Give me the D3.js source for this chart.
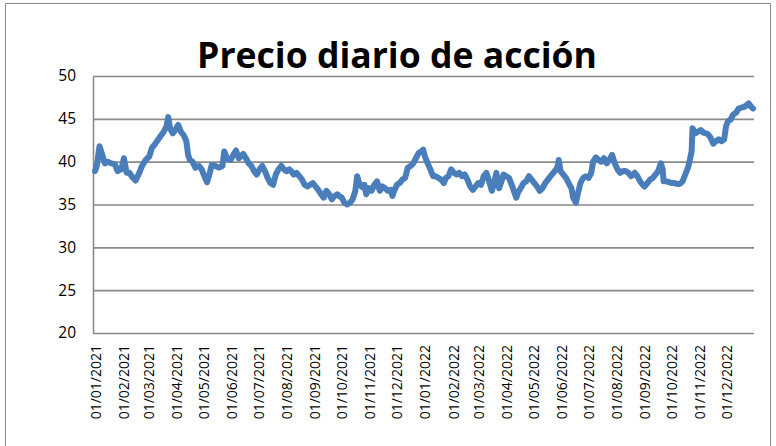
<!DOCTYPE html>
<html>
<head>
<meta charset="utf-8">
<script src="https://cdn.jsdelivr.net/npm/d3@7"></script>
<style>
  body { margin: 0; background: #fff; }
  svg { display: block; }
</style>
</head>
<body>
<svg></svg>
<script>
// precio de cierre (aprox. cada 3 dias)
const fechas2021 = ['01-01','01-03','01-06','01-09','01-12','01-15','01-19','01-23','01-26','01-30',
  '02-02','02-05','02-08','02-12','02-15','02-19','02-22','02-26',
  '03-02','03-05','03-08','03-12','03-14','03-18','03-21','03-23','03-25','03-28','03-31',
  '04-03','04-06','04-09','04-12','04-14','04-16','04-19','04-22','04-26','04-29',
  '05-02','05-05','05-08','05-10','05-14','05-18','05-22','05-24','05-27','05-31',
  '06-03','06-06','06-09','06-11','06-14','06-17','06-20','06-23','06-26','06-29',
  '07-02','07-05','07-08','07-11','07-14','07-17','07-20','07-23','07-26','07-29',
  '08-01','08-04','08-06','08-09','08-12','08-15','08-18','08-21','08-24','08-27','08-30',
  '09-02','09-05','09-08','09-11','09-14','09-17','09-20','09-23','09-26','09-28',
  '10-01','10-04','10-07','10-10','10-13','10-16','10-18','10-21','10-24','10-26','10-28','10-31',
  '11-03','11-06','11-09','11-12','11-15','11-18','11-21','11-24','11-26','11-28',
  '12-01','12-04','12-07','12-10','12-13','12-16','12-19','12-22','12-25','12-28','12-30'];
const precios2021 = [38.9,39.5,41.8,40.8,39.8,40.0,39.8,39.7,38.9,39.1,
  40.4,38.7,38.7,38.1,37.8,38.7,39.5,40.2,
  40.6,41.6,42.0,42.6,42.9,43.5,44.1,45.2,43.9,43.3,43.7,
  44.3,43.5,43.1,42.4,40.8,40.2,40.0,39.3,39.5,39.1,
  38.3,37.6,38.7,39.6,39.5,39.3,39.5,41.2,40.4,40.2,
  40.8,41.3,40.4,40.6,40.9,40.4,39.8,39.5,38.9,38.5,
  39.1,39.5,38.9,38.1,37.5,37.3,38.5,39.1,39.5,39.1,
  38.9,39.1,38.9,38.5,38.7,38.3,37.9,37.3,37.1,37.3,37.5,
  37.1,36.7,36.2,35.8,36.6,36.2,35.6,36.0,36.2,36.0,
  35.8,35.2,35.0,35.2,35.6,36.6,38.3,37.3,37.0,37.3,36.2,36.9,
  36.6,37.3,37.7,36.6,37.1,36.9,36.6,36.7,36.0,36.6,
  37.3,37.5,37.9,38.1,39.3,39.5,39.8,40.4,41.0,41.2,41.4];

const fechas2022 = ['01-01','01-04','01-07','01-10','01-13','01-16','01-19','01-22','01-24','01-27','01-30',
  '02-02','02-05','02-08','02-11','02-14','02-17','02-20','02-23','02-26',
  '03-01','03-04','03-07','03-10','03-13','03-16','03-18','03-21','03-24','03-26','03-29',
  '04-01','04-04','04-07','04-10','04-12','04-14','04-17','04-20','04-23','04-26','04-29',
  '05-02','05-05','05-08','05-11','05-14','05-17','05-20','05-23','05-26','05-28','05-29','05-31',
  '06-03','06-06','06-09','06-12','06-14','06-17','06-19','06-22','06-25','06-28',
  '07-01','07-04','07-06','07-09','07-12','07-15','07-18','07-21','07-24','07-27','07-30',
  '08-02','08-05','08-08','08-11','08-14','08-17','08-21','08-24','08-27','08-30',
  '09-01','09-04','09-07','09-10','09-13','09-16','09-19','09-21','09-22','09-25','09-28',
  '10-01','10-04','10-07','10-10','10-13','10-16','10-19','10-21','10-23','10-24','10-27','10-30',
  '11-02','11-05','11-08','11-10','11-13','11-16','11-19','11-22','11-25','11-28','11-30',
  '12-02','12-05','12-08','12-11','12-14','12-17','12-20','12-23','12-25','12-28','12-30'];
const precios2022 = [40.6,39.8,39.1,38.3,38.3,38.1,37.9,37.5,38.1,38.3,39.1,
  38.7,38.5,38.7,38.3,38.5,37.9,37.1,36.7,37.1,
  37.5,37.3,38.3,38.7,37.7,36.6,37.3,38.7,36.9,37.5,38.5,
  38.3,38.1,37.3,36.4,35.8,36.4,36.9,37.5,37.7,38.3,37.9,
  37.5,37.1,36.6,36.9,37.5,37.9,38.3,38.7,39.1,39.5,40.2,38.9,
  38.5,38.1,37.5,36.9,35.8,35.2,36.2,37.5,38.1,38.3,
  38.1,38.7,40.0,40.5,40.2,40.0,40.4,39.8,40.2,40.8,39.8,
  39.1,38.7,38.9,38.9,38.7,38.3,38.7,38.3,37.7,37.3,
  37.1,37.5,37.9,38.1,38.5,38.9,39.8,39.1,37.7,37.7,37.6,
  37.5,37.5,37.4,37.4,37.7,38.5,39.3,40.2,41.2,43.9,43.3,43.5,
  43.7,43.4,43.3,43.2,42.8,42.1,42.4,42.6,42.4,42.6,44.1,
  44.7,44.9,45.5,45.7,46.2,46.3,46.4,46.6,46.8,46.4,46.2];

const yTicks = [20, 25, 30, 35, 40, 45, 50];
const TITULO = 'Precio diario de acción';

const WIDTH = 776;
const HEIGHT = 446;
const PLOT_LEFT = 93;
const PLOT_RIGHT = 754;
const PLOT_TOP = 76;
const PLOT_BOTTOM = 333;
const GRID_COLOR = '#8a8a8a';
const FONT = '"Open Sans", sans-serif';

const parseFecha = d3.timeParse('%Y-%m-%d');
const datos = fechas2021.map((f, i) => ({ fecha: parseFecha('2021-' + f), precio: precios2021[i] })).
  concat(fechas2022.map((f, i) => ({ fecha: parseFecha('2022-' + f), precio: precios2022[i] })));

const svg = d3.select('svg').
  attr('width', WIDTH).
  attr('height', HEIGHT).
  attr('font-family', FONT);

// marco del grafico
svg.append('rect').
  attr('x', 5.5).
  attr('y', 3.5).
  attr('width', 765).
  attr('height', 470).
  attr('fill', 'none').
  attr('stroke', '#8c8c8c').
  attr('stroke-width', 1);

/* --SCALES-- */
const xScale = d3.scaleTime().
  domain([new Date(2021, 0, 1), new Date(2022, 11, 31)]).
  range([95, PLOT_RIGHT]);

const yScale = d3.scaleLinear().
  domain([20, 50]).
  range([PLOT_BOTTOM, PLOT_TOP]);

/* --AXES-- */
const yAxis = d3.axisLeft(yScale).
  tickValues(yTicks).
  tickSize(-(PLOT_RIGHT - PLOT_LEFT)).
  tickSizeOuter(0).
  tickPadding(17);

const yG = svg.append('g').
  attr('transform', `translate(${PLOT_LEFT}, 0)`).
  call(yAxis).
  attr('font-family', FONT);
yG.selectAll('line').attr('stroke', GRID_COLOR).attr('stroke-width', 1.6);
yG.select('.domain').attr('stroke', GRID_COLOR).attr('stroke-width', 1.6);
yG.selectAll('text').
  attr('font-size', 15.5).
  attr('fill', '#000');

const monthTicks = d3.timeMonth.range(new Date(2021, 0, 1), new Date(2023, 0, 1));
const xAxis = d3.axisBottom(xScale).
  tickValues(monthTicks).
  tickSize(0).
  tickFormat(d3.timeFormat('%d/%m/%Y'));

const xG = svg.append('g').
  attr('transform', `translate(0, ${PLOT_BOTTOM})`).
  call(xAxis).
  attr('font-family', FONT);
xG.select('.domain').remove();
xG.selectAll('text').
  attr('transform', 'rotate(-90)').
  attr('text-anchor', 'end').
  attr('x', -12).
  attr('y', 0).
  attr('dy', '0.36em').
  attr('font-size', 14).
  attr('fill', '#000');

/* --LINE-- */
const linea = d3.line().
  x(d => xScale(d.fecha)).
  y(d => yScale(d.precio));

svg.append('path').
  datum(datos).
  attr('d', linea).
  attr('fill', 'none').
  attr('stroke', '#4a7ebb').
  attr('stroke-width', 6).
  attr('stroke-linejoin', 'round').
  attr('stroke-linecap', 'round');

/* --TITLE-- */
const title = svg.append('text').
  text(TITULO).
  attr('x', 397).
  attr('y', 68).
  attr('text-anchor', 'middle').
  attr('font-weight', 'bold').
  attr('font-size', 35).
  attr('fill', '#000');

// ajustar al ancho del titulo original (~400px)
const w = title.node().getComputedTextLength();
if (w > 0) title.attr('font-size', 35 * 400 / w);
</script>
</body>
</html>
